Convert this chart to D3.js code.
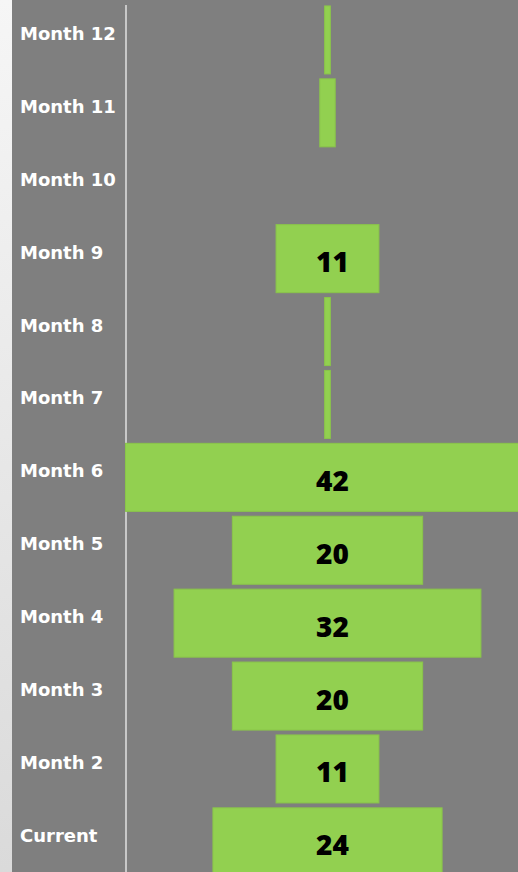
<!DOCTYPE html>
<html>
<head>
<meta charset="utf-8">
<script src="https://cdn.jsdelivr.net/npm/d3@7"></script>
<style>
  html, body { margin: 0; padding: 0; background: #7f7f7f; overflow: hidden; }
</style>
</head>
<body>
<div id="funnel"></div>
<script>
const width = 518;
const height = 872;

// top to bottom, as drawn
const categories = ["Month 12", "Month 11", "Month 10", "Month 9", "Month 8", "Month 7",
                    "Month 6", "Month 5", "Month 4", "Month 3", "Month 2", "Current"];
const values = [1, 2, 0, 11, 1, 1, 42, 20, 32, 20, 11, 24];

const data = categories.map((c, i) => ({ name: c, value: values[i] }));

const centerX = 327.5;
const axisX = 126;

const svg = d3.select('#funnel')
              .append('svg')
              .attr('width', width)
              .attr('height', height)
              .style('display', 'block');

const defs = svg.append('defs');
const grad = defs.append('linearGradient')
                 .attr('id', 'strip')
                 .attr('x1', 0).attr('y1', 0).attr('x2', 0).attr('y2', 1);
grad.append('stop').attr('offset', '0%').attr('stop-color', '#f6f6f6');
grad.append('stop').attr('offset', '100%').attr('stop-color', '#dadada');

svg.append('rect')
   .attr('width', width).attr('height', height)
   .attr('fill', '#7f7f7f');

svg.append('rect')
   .attr('width', 12).attr('height', height)
   .attr('fill', 'url(#strip)');

var yScale = d3.scaleBand()
               .domain(categories)
               .range([3.5, 3.5 + 12 * 72.9])
               .paddingInner(0.067)
               .paddingOuter(0.0335);

var xScale = d3.scaleLinear()
               .domain([0, 42])
               .range([0, 408]);

// vertical divider
svg.append('line')
   .attr('x1', axisX).attr('x2', axisX)
   .attr('y1', 5).attr('y2', height)
   .attr('stroke', '#c8c8c8')
   .attr('stroke-width', 2);

const g = svg.append('g');

g.selectAll('rect.bar')
 .data(data.filter(d => d.value > 0))
 .enter()
 .append('rect')
 .attr('class', 'bar')
 .attr('x', d => centerX - (xScale(d.value) - 4) / 2)
 .attr('y', d => yScale(d.name))
 .attr('width', d => xScale(d.value) - 4)
 .attr('height', yScale.bandwidth())
 .attr('fill', '#92d050')
 .attr('stroke', '#8ac54a')
 .attr('stroke-width', 1);

g.selectAll('text.val')
 .data(data.filter(d => d.value >= 5))
 .enter()
 .append('text')
 .attr('class', 'val')
 .attr('x', centerX + 5)
 .attr('y', d => yScale(d.name) + yScale.bandwidth() / 2 + 6)
 .attr('text-anchor', 'middle')
 .attr('dominant-baseline', 'middle')
 .style('font-family', '"Open Sans", sans-serif')
 .style('font-weight', 800)
 .style('font-size', '28px')
 .attr('fill', '#000')
 .text(d => d.value);

svg.selectAll('text.cat')
   .data(categories)
   .enter()
   .append('text')
   .attr('class', 'cat')
   .attr('x', 20)
   .attr('y', d => yScale(d) + yScale.bandwidth() / 2 - 5)
   .attr('dominant-baseline', 'middle')
   .style('font-family', '"DejaVu Sans", sans-serif')
   .style('font-weight', 700)
   .style('font-size', '18px')
   .attr('fill', '#ffffff')
   .text(d => d);
</script>
</body>
</html>
